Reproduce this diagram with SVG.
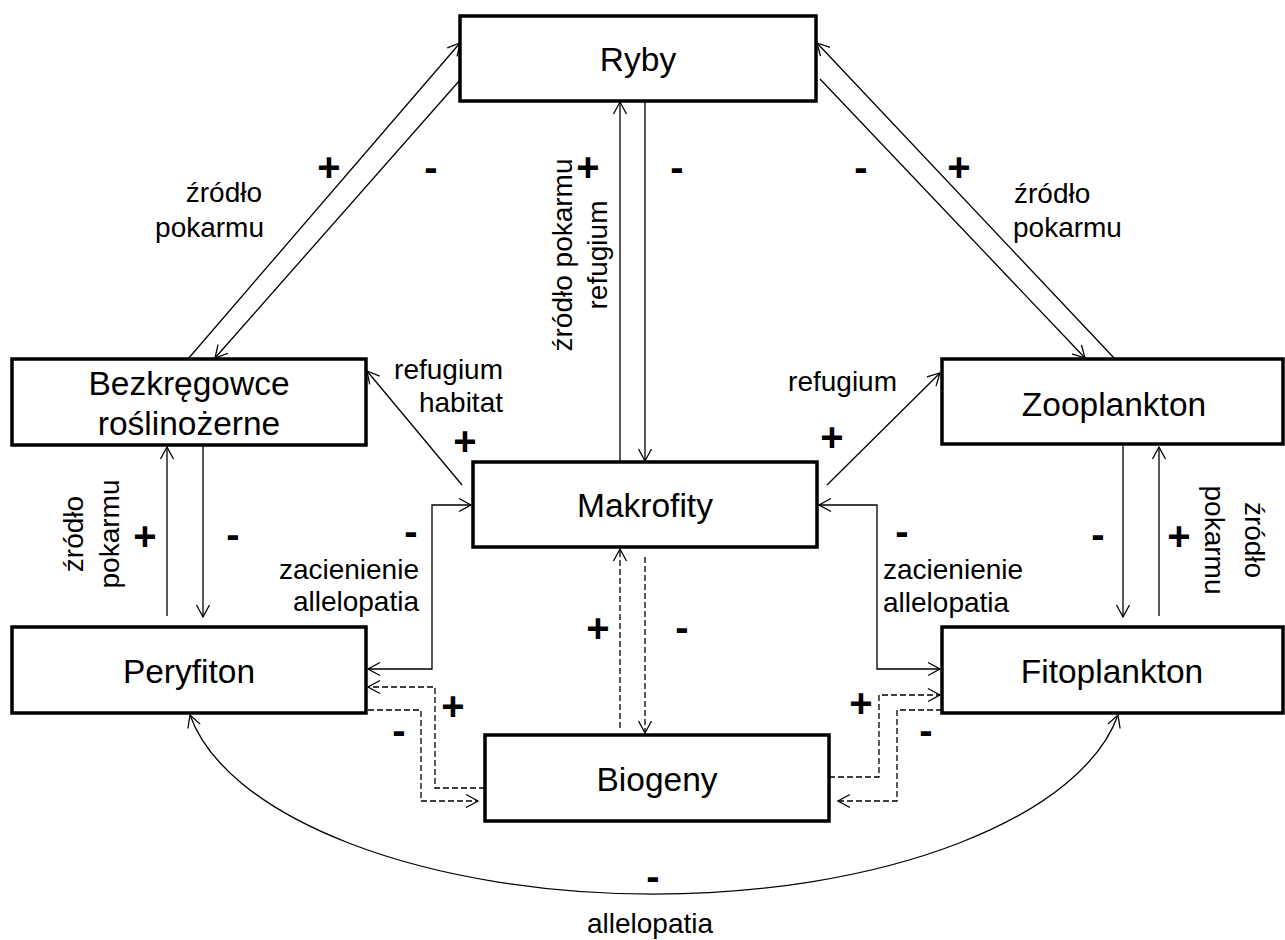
<svg xmlns="http://www.w3.org/2000/svg" width="1285" height="940" viewBox="0 0 1285 940">
<style>
.box{fill:#fff;stroke:#000;stroke-width:3.5}
.bl{font-family:"Liberation Sans",Arial,sans-serif;font-size:33.5px;text-anchor:middle;fill:#000}
.lb{font-family:"Liberation Sans",Arial,sans-serif;font-size:28px;fill:#000}
.sg{font-family:"Liberation Sans",Arial,sans-serif;font-size:40px;font-weight:bold;text-anchor:middle;fill:#000}
.ln{fill:none;stroke:#000;stroke-width:1.3;marker-end:url(#ah)}
.both{marker-start:url(#ah)}
.ds{stroke-dasharray:6 3}
.st{text-anchor:start}
.en{text-anchor:end}
.mi{text-anchor:middle}
</style>
<defs>
<marker id="ah" viewBox="-14 -8 16 16" refX="0" refY="0" markerWidth="16" markerHeight="16" markerUnits="userSpaceOnUse" orient="auto-start-reverse">
<path d="M-12,-6.5 L0,0 L-12,6.5" fill="none" stroke="#000" stroke-width="1.3" stroke-dasharray="none"/>
</marker>
</defs>
<rect width="1285" height="940" fill="#fff"/>

<g id="connectors">
<line class="ln" x1="188" y1="359" x2="460" y2="43"/>
<line class="ln" x1="460" y1="80" x2="215" y2="358"/>
<line class="ln" x1="1115" y1="359" x2="817" y2="43"/>
<line class="ln" x1="820" y1="79" x2="1085" y2="358"/>
<line class="ln" x1="620" y1="462" x2="620" y2="102"/>
<line class="ln" x1="645" y1="101" x2="645" y2="461"/>
<line class="ln" x1="462" y1="485" x2="367" y2="371"/>
<line class="ln" x1="827" y1="485" x2="940" y2="373"/>
<path class="ln both" d="M471,505 H432 V669 H368"/>
<path class="ln both" d="M819,505 H877 V669 H940"/>
<line class="ln" x1="167" y1="616" x2="167" y2="447"/>
<line class="ln" x1="203" y1="446" x2="203" y2="617"/>
<line class="ln" x1="1123" y1="446" x2="1123" y2="617"/>
<line class="ln" x1="1159" y1="616" x2="1159" y2="447"/>
<line class="ln ds" x1="620" y1="728" x2="620" y2="549"/>
<line class="ln ds" x1="645" y1="557" x2="645" y2="733"/>
<path class="ln ds" d="M485,788 H435 V687 H368"/>
<path class="ln ds" d="M368,710 H421 V801 H478"/>
<path class="ln ds" d="M829,777 H879 V695 H940"/>
<path class="ln ds" d="M942,710 H897 V801 H838"/>
<path class="ln both" d="M190,715 A470,213 0 0 0 1118,715"/>
</g>

<g id="ryby"><rect class="box" x="460" y="16" width="356" height="85"/><text class="bl" x="638" y="71">Ryby</text></g>
<g id="bezkregowce"><rect class="box" x="12" y="359" width="354" height="86"/><text class="bl" x="189" y="395">Bezkręgowce</text><text class="bl" x="189" y="435">roślinożerne</text></g>
<g id="makrofity"><rect class="box" x="473" y="462" width="344" height="85"/><text class="bl" x="645" y="517">Makrofity</text></g>
<g id="zooplankton"><rect class="box" x="942" y="359" width="341" height="85"/><text class="bl" x="1114" y="416">Zooplankton</text></g>
<g id="peryfiton"><rect class="box" x="12" y="627" width="354" height="86"/><text class="bl" x="189" y="683">Peryfiton</text></g>
<g id="fitoplankton"><rect class="box" x="942" y="627" width="341" height="86"/><text class="bl" x="1112" y="683">Fitoplankton</text></g>
<g id="biogeny"><rect class="box" x="485" y="735" width="344" height="86"/><text class="bl" x="657" y="791">Biogeny</text></g>

<g id="labels">
<text class="lb en" x="262" y="202">źródło</text>
<text class="lb en" x="264" y="237">pokarmu</text>
<text class="lb st" x="1014" y="203">źródło</text>
<text class="lb st" x="1013" y="237">pokarmu</text>
<text class="lb mi" transform="translate(572,255) rotate(-90)"><tspan x="0" y="0">źródło pokarmu</tspan><tspan x="0" y="35">refugium</tspan></text>
<text class="lb en" x="503" y="379">refugium</text>
<text class="lb en" x="503" y="412">habitat</text>
<text class="lb en" x="897" y="391">refugium</text>
<text class="lb en" x="419" y="579">zacienienie</text>
<text class="lb en" x="419" y="611">allelopatia</text>
<text class="lb st" x="883" y="579">zacienienie</text>
<text class="lb st" x="883" y="612">allelopatia</text>
<text class="lb mi" transform="translate(83,534) rotate(-90)"><tspan x="0" y="0">źródło</tspan><tspan x="0" y="36">pokarmu</tspan></text>
<text class="lb mi" transform="translate(1245,540) rotate(90)"><tspan x="0" y="0">źródło</tspan><tspan x="0" y="40">pokarmu</tspan></text>
<text class="lb mi" x="650" y="933">allelopatia</text>
</g>

<g id="signs">
<text class="sg" x="329" y="181">+</text>
<text class="sg" x="431" y="181">-</text>
<text class="sg" x="588" y="181">+</text>
<text class="sg" x="677" y="181">-</text>
<text class="sg" x="861" y="181">-</text>
<text class="sg" x="959" y="181">+</text>
<text class="sg" x="465" y="455">+</text>
<text class="sg" x="832" y="451">+</text>
<text class="sg" x="145" y="550">+</text>
<text class="sg" x="233" y="548">-</text>
<text class="sg" x="411" y="545">-</text>
<text class="sg" x="902" y="545">-</text>
<text class="sg" x="1098" y="548">-</text>
<text class="sg" x="1179" y="550">+</text>
<text class="sg" x="598" y="642">+</text>
<text class="sg" x="682" y="641">-</text>
<text class="sg" x="453" y="720">+</text>
<text class="sg" x="399" y="744">-</text>
<text class="sg" x="861" y="717">+</text>
<text class="sg" x="926" y="744">-</text>
<text class="sg" x="653" y="890">-</text>
</g>
</svg>
